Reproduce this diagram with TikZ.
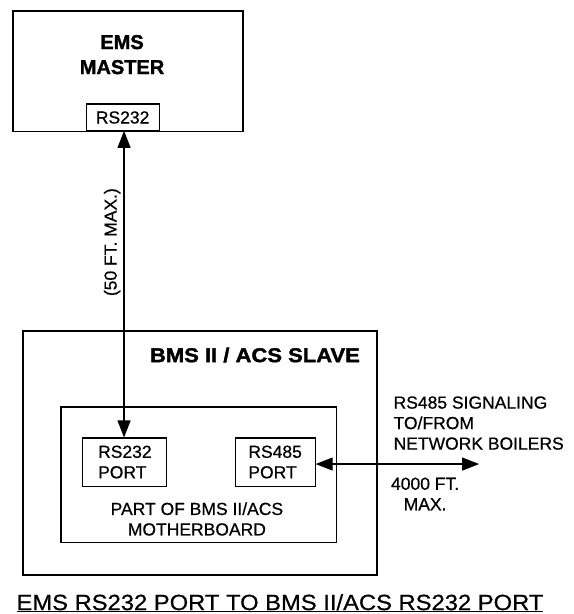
\documentclass[tikz,border=0pt]{standalone}
\usepackage{fontspec}
\setmainfont{Liberation Sans}[UprightFeatures={FakeBold=0.6}, BoldFeatures={FakeBold=1.6}]
\usetikzlibrary{arrows.meta, positioning}

\begin{document}
\begin{tikzpicture}[
    every node/.style={font=\fontsize{17.5}{20.5}\selectfont},
    box/.style={
        rectangle, draw, line width=1.3pt, inner sep=0pt,
    },
    port/.style={
        rectangle, draw, line width=1.1pt, inner sep=0pt, align=left,
    },
    head/.style={font=\fontsize{20}{25}\selectfont\bfseries, align=center},
    lab/.style={align=center},
    arr/.style={
        {Triangle[length=17pt, width=13pt]}-{Triangle[length=17pt, width=13pt]},
        line width=1.2pt,
    },
]
\useasboundingbox (0, 0) rectangle (20.14, 21.58);

% ================================================ top: the master
\node[box, minimum width=8.08cm, minimum height=4.22cm] (ems) at (4.50, 19.08) {};
\node[head] (emsname) at (4.29, 19.66) {EMS\\MASTER};
\node[port, minimum width=2.57cm, minimum height=0.95cm] (emsport) at (4.31, 17.45) {RS232};

% ================================================ bottom: the slave
\node[box, minimum width=12.44cm, minimum height=8.58cm] (slave) at (7.03, 5.66) {};
\node[head] (slavename) at (8.96, 9.10) {\scalebox{1.1}[1]{BMS II / ACS SLAVE}};
\node[port, minimum width=9.67cm, minimum height=4.75cm] (board) at (6.98, 4.90) {};
\node[port, minimum width=2.95cm, minimum height=1.69cm] (port232) at (4.39, 5.34) {RS232\\PORT};
\node[port, minimum width=2.81cm, minimum height=1.69cm] (port485) at (9.67, 5.34) {RS485\\PORT};
\node[lab] (boardname) at (6.92, 3.34) {PART OF BMS II/ACS\\MOTHERBOARD};

% the serial link
\coordinate (cable top) at (4.36, 16.98);
\draw[arr] (port232.north -| cable top) -- (cable top);
\node[lab, rotate=90] (cable) at (3.94, 13.07) {(50 FT. MAX.)};

% the network side
\coordinate (boilers) at (16.84, 5.27);
\draw[arr] (port485.east |- boilers) -- (boilers);
\node[align=left, anchor=west] (signal) at (13.71, 6.71) {RS485 SIGNALING\\TO/FROM\\NETWORK BOILERS};
\node[lab] (range) at (14.94, 4.22) {4000 FT.\\MAX.};

% caption
\node (title) at (9.84, 0.38) {\fontsize{22}{26}\selectfont\scalebox{1.08}[1]{\underline{EMS RS232 PORT TO BMS II/ACS RS232 PORT}}};

\end{tikzpicture}
\end{document}
